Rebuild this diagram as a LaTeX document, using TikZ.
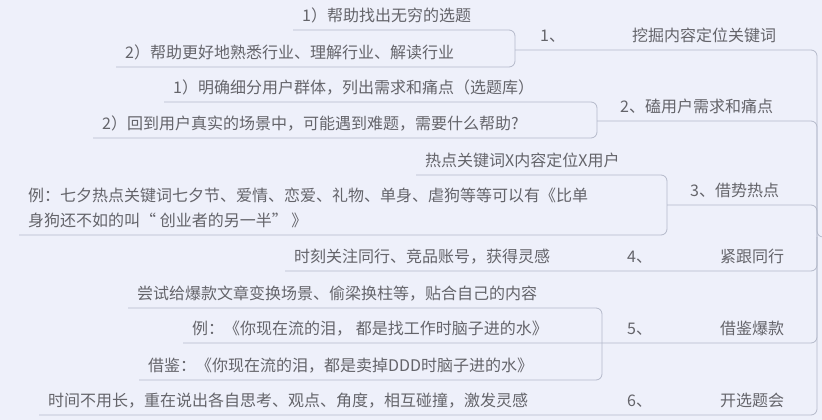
\documentclass[tikz,border=0pt]{standalone}
\usepackage{fontspec}
\newfontfamily\cjk{Noto Sans CJK SC}
\definecolor{bgcol}{RGB}{238,240,250}
\definecolor{txtcol}{RGB}{100,100,106}
\definecolor{linecol}{RGB}{180,185,202}

\begin{document}
\begin{tikzpicture}[x=1pt,y=-1pt,
    topic/.style={anchor=south west,inner xsep=9pt,inner ysep=0pt,text depth=8pt,text=txtcol,font=\cjk\fontsize{16}{25}\selectfont},
    link/.style={draw=linecol,line width=0.8pt,rounded corners=6pt}]

            \fill[bgcol] (0,0) rectangle (822,420);
            \useasboundingbox (0,0) rectangle (822,420);

            \node[topic] (c11) at (293,30) {1）帮助找出无穷的选题};
            \node[topic] (c12) at (116,67) {2）帮助更好地熟悉行业、理解行业、解读行业};
            \node[topic] (t1) at (531,50) {1、\hspace{67pt}挖掘内容定位关键词};

            \node[topic] (c21) at (164,102) {1）明确细分用户群体，列出需求和痛点（选题库）};
            \node[topic] (c22) at (93,138) {2）回到用户真实的场景中，可能遇到难题，需要什么帮助?};
            \node[topic] (t2) at (611,121) {2、磕用户需求和痛点};

            \node[topic] (c31) at (416,175) {热点关键词X内容定位X用户};
            \node[topic,align=left] (c32) at (19,235) {例：七夕热点关键词七夕节、爱情、恋爱、礼物、单身、虐狗等等可以有《比单\\身狗还不如的叫“ 创业者的另一半” 》};
            \node[topic] (t3) at (681,205) {3、借势热点};

            \node[topic] (c41) at (285,271) {时刻关注同行、竞品账号，获得灵感};
            \node[topic] (t4) at (618,271) {4、\hspace{68pt}紧跟同行};

            \node[topic] (c51) at (128,308) {尝试给爆款文章变换场景、偷梁换柱等，贴合自己的内容};
            \node[topic] (c52) at (183,343) {例：《你现在流的泪， 都是找工作时脑子进的水》};
            \node[topic] (c53) at (139,380) {借鉴：《你现在流的泪，都是卖掉DDD时脑子进的水》};
            \node[topic] (t5) at (618,343) {5、\hspace{68pt}借鉴爆款};

            \node[topic] (c61) at (39,415) {时间不用长，重在说出各自思考、观点、角度，相互碰撞，激发灵感};
            \node[topic] (t6) at (618,415) {6、\hspace{68pt}开选题会};

            \coordinate (b1) at (515,50);
            \coordinate (b2) at (597,121);
            \coordinate (b3) at (667,205);
            \coordinate (b5) at (602,343);
            \coordinate (root) at (817,237);

            \draw[link] (c11.south west) -| (b1) |- (c12.south west);
            \draw[link] (c21.south west) -| (b2) |- (c22.south west);
            \draw[link] (c31.south west) -| (b3) |- (c32.south west);
            \draw[link] (c51.south west) -| (b5) |- (c53.south west);

            \draw[link] (b1) -| (root) -- ++(10,0);
            \draw[link] (b2) -| (root);
            \draw[link] (b3) -| (root);
            \draw[link] (c41.south west) -| (root);
            \draw[link] (c52.south west) -| (root);
            \draw[link] (c61.south west) -| (root);

        \end{tikzpicture}
\end{document}
